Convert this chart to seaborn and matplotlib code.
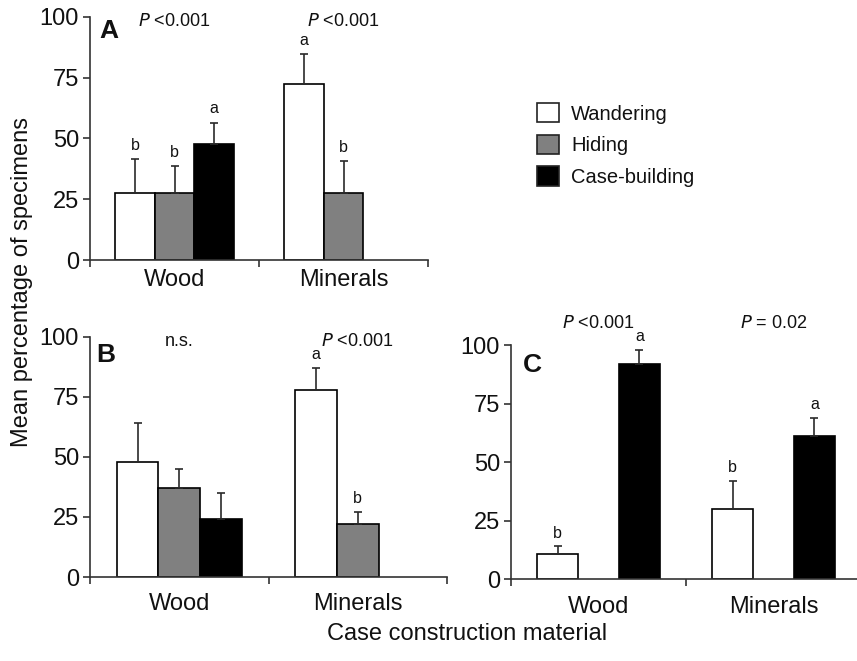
import matplotlib
matplotlib.use("Agg")
import matplotlib.pyplot as plt
import seaborn as sns
import pandas as pd
import numpy as np
from matplotlib.ticker import FixedLocator

# ---------------- data ----------------
categories = ["Wood", "Minerals"]
behaviours = ["Wandering", "Hiding", "Case-building"]
colors = ["#ffffff", "#808080", "#000000"]

# panel A
a_wood_mean = [27.5, 27.5, 47.5]
a_wood_err = [14, 11, 9]
a_wood_letters = ["b", "b", "a"]
a_min_mean = [72.5, 27.5, None]
a_min_err = [12, 13, None]
a_min_letters = ["a", "b", None]
a_pvals = ["<0.001", "<0.001"]

# panel B
b_wood_mean = [48, 37, 24]
b_wood_err = [16, 8, 11]
b_wood_letters = [None, None, None]
b_min_mean = [78, 22, None]
b_min_err = [9, 5, None]
b_min_letters = ["a", "b", None]
b_pvals = ["n.s.", "<0.001"]

# panel C
c_wood_mean = [11, None, 92]
c_wood_err = [3, None, 6]
c_wood_letters = ["b", None, "a"]
c_min_mean = [30, None, 61]
c_min_err = [12, None, 8]
c_min_letters = ["b", None, "a"]
c_pvals = ["<0.001", "= 0.02"]

y_ticks = [0, 25, 50, 75, 100]


def make_df(wood_mean, wood_err, wood_let, min_mean, min_err, min_let):
    rows = []
    for cat, means, errs, lets in [("Wood", wood_mean, wood_err, wood_let),
                                   ("Minerals", min_mean, min_err, min_let)]:
        for b, m, e, l in zip(behaviours, means, errs, lets):
            if m is not None:
                rows.append(dict(material=cat, behaviour=b, mean=m, err=e, letter=l))
    return pd.DataFrame(rows)


dfA = make_df(a_wood_mean, a_wood_err, a_wood_letters, a_min_mean, a_min_err, a_min_letters)
dfB = make_df(b_wood_mean, b_wood_err, b_wood_letters, b_min_mean, b_min_err, b_min_letters)
dfC = make_df(c_wood_mean, c_wood_err, c_wood_letters, c_min_mean, c_min_err, c_min_letters)

# ---------------- style ----------------
sns.set_style("ticks")
plt.rcParams["font.family"] = ["Liberation Sans", "DejaVu Sans"]
txt_col = "#111111"
plt.rcParams["text.color"] = txt_col
plt.rcParams["xtick.labelcolor"] = txt_col
plt.rcParams["ytick.labelcolor"] = txt_col

W, H = 857, 661
fig = plt.figure(figsize=(W / 100, H / 100), dpi=100)

axA = fig.add_axes([90 / W, 1 - 260 / H, (428 - 90) / W, (260 - 16.7) / H])
axB = fig.add_axes([90 / W, 1 - 577 / H, (447 - 90) / W, (577 - 336.7) / H])
axC = fig.add_axes([511 / W, 1 - 579.3 / H, (861 - 511) / W, (579.3 - 345) / H])

spine_col = "#333333"
err_col = "#2a2a2a"


def draw_panel(ax, df, pvals, p_y, panel, panel_xy, xpad):
    sns.barplot(data=df, x="material", y="mean", hue="behaviour",
                order=categories, hue_order=behaviours,
                palette=dict(zip(behaviours, colors)), width=0.7,
                edgecolor="black", linewidth=1.2, errorbar=None,
                legend=False, ax=ax, saturation=1)
    # error bars and letters
    hexcols = [matplotlib.colors.to_hex(c) for c in colors]
    for p in ax.patches:
        xc = p.get_x() + p.get_width() / 2
        h = p.get_height()
        cat = categories[int(round(xc))]
        fc = matplotlib.colors.to_hex(p.get_facecolor())
        beh = behaviours[hexcols.index(fc)]
        row = df[(df.material == cat) & (df.behaviour == beh)].iloc[0]
        ax.errorbar([xc], [h], yerr=[[0], [row.err]], fmt="none", ecolor=err_col,
                    elinewidth=1.2, capsize=3, capthick=1.2, zorder=1)
        if isinstance(row.letter, str):
            ax.text(xc, h + row.err + 2.5, row.letter, ha="center", va="bottom",
                    fontsize=11.5)
    ax.set_ylim(0, 100)
    ax.set_xlim(-0.5, 1.5)
    ax.set_yticks(y_ticks)
    ax.set_xlabel("")
    ax.set_ylabel("")
    sns.despine(ax=ax)
    for s in ["left", "bottom"]:
        ax.spines[s].set_color(spine_col)
        ax.spines[s].set_linewidth(1.2)
    ax.xaxis.set_minor_locator(FixedLocator([-0.5, 0.5, 1.5]))
    ax.tick_params(axis="x", which="major", length=0, pad=xpad, labelsize=17)
    ax.tick_params(axis="x", which="minor", length=5, width=1.2, color=spine_col, direction="out")
    ax.tick_params(axis="y", length=5, width=1.2, color=spine_col, pad=3, labelsize=17)
    for i, pv in enumerate(pvals):
        if pv.startswith("n.s"):
            ax.text(i, p_y, pv, ha="center", va="center", fontsize=13, clip_on=False)
        else:
            ax.text(i, p_y, r"$\it{P}$ " + pv, ha="center", va="center",
                    fontsize=13, clip_on=False)
    ax.text(panel_xy[0], panel_xy[1], panel, ha="center", va="center",
            fontsize=19, fontweight="bold")


draw_panel(axA, dfA, a_pvals, 98, "A", (-0.39, 94), 6.5)
draw_panel(axB, dfB, b_pvals, 98, "B", (-0.41, 92.5), 11.5)
draw_panel(axC, dfC, c_pvals, 109, "C", (-0.38, 91.5), 12)

# legend
handles = [matplotlib.patches.Patch(facecolor=c, edgecolor="#222222", linewidth=1.2)
           for c in colors]
fig.legend(handles, behaviours, loc="upper left",
           bbox_to_anchor=(537 / W, 1 - 103 / H), frameon=False, fontsize=14.5,
           handlelength=1.1, handleheight=1.1, handletextpad=0.6,
           labelspacing=0.55, borderpad=0, borderaxespad=0)

fig.text(22 / W, 1 - 282 / H, "Mean percentage of specimens", rotation=90,
         ha="center", va="center", fontsize=17)
fig.text(467 / W, 1 - 634 / H, "Case construction material",
         ha="center", va="center", fontsize=17)

fig.savefig("out.png", dpi=100)
